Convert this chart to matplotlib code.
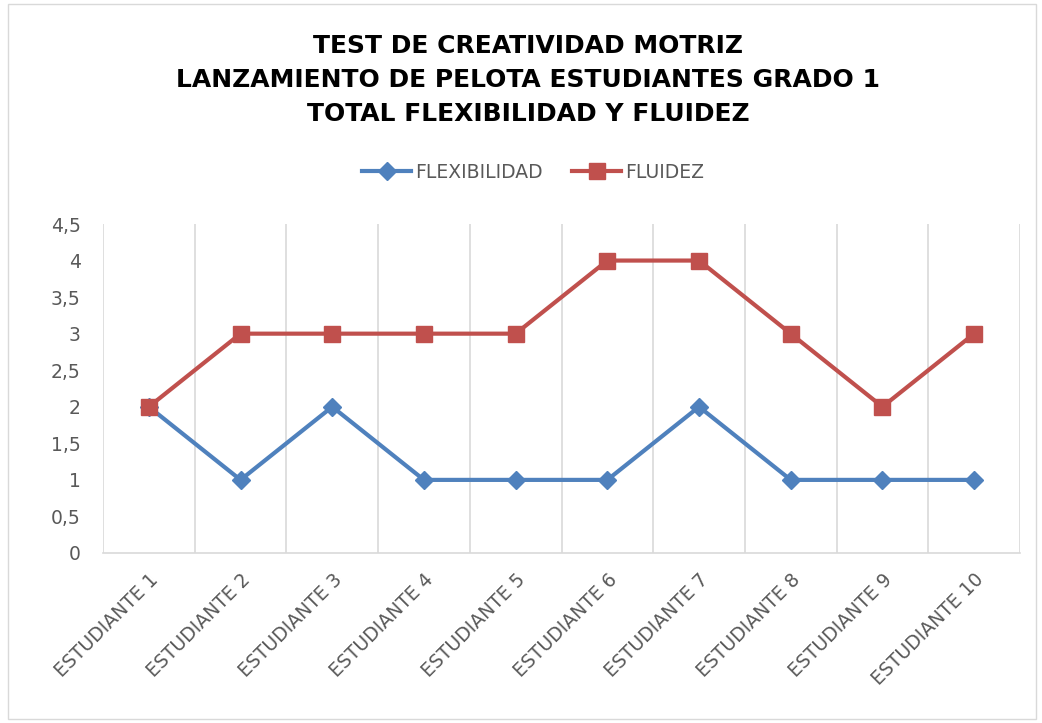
import matplotlib
matplotlib.use("Agg")
import matplotlib.pyplot as plt
from matplotlib.patches import Rectangle

categories = ["ESTUDIANTE 1", "ESTUDIANTE 2", "ESTUDIANTE 3", "ESTUDIANTE 4", "ESTUDIANTE 5",
              "ESTUDIANTE 6", "ESTUDIANTE 7", "ESTUDIANTE 8", "ESTUDIANTE 9", "ESTUDIANTE 10"]
flexibilidad = [2, 1, 2, 1, 1, 1, 2, 1, 1, 1]
fluidez = [2, 3, 3, 3, 3, 4, 4, 3, 2, 3]
yticks = [0, 0.5, 1, 1.5, 2, 2.5, 3, 3.5, 4, 4.5]
ytick_labels = ["0", "0,5", "1", "1,5", "2", "2,5", "3", "3,5", "4", "4,5"]
title_lines = ["TEST DE CREATIVIDAD MOTRIZ",
               "LANZAMIENTO DE PELOTA ESTUDIANTES GRADO 1",
               "TOTAL FLEXIBILIDAD Y FLUIDEZ"]

plt.rcParams['font.family'] = ['DejaVu Sans']

W, H = 1042, 723
fig = plt.figure(figsize=(W / 100, H / 100), dpi=100)
fig.patches.append(Rectangle((8 / W, 4 / H), (1036 - 8) / W, (719 - 4) / H,
                             transform=fig.transFigure, fill=False,
                             edgecolor="#d9d9d9", linewidth=1))

left, right, top, bottom = 103, 1020, 224, 553
ax = fig.add_axes([left / W, 1 - bottom / H, (right - left) / W, (bottom - top) / H])

x = list(range(len(categories)))
blue = "#4f81bd"
red = "#c0504d"
ax.plot(x, flexibilidad, color=blue, linewidth=3, marker="D", markersize=9,
        label="FLEXIBILIDAD", zorder=3)
ax.plot(x, fluidez, color=red, linewidth=3, marker="s", markersize=12,
        label="FLUIDEZ", zorder=3)

ax.set_xlim(-0.5, len(categories) - 0.5)
ax.set_ylim(0, 4.5)
ax.set_yticks(yticks)
ax.set_yticklabels(ytick_labels, fontsize=13.5, color="#595959")
ax.set_xticks(x)
ax.set_xticklabels(categories, rotation=45, ha="right", va="top", fontsize=13.5,
                   color="#595959", rotation_mode="anchor")
ax.tick_params(axis="both", length=0)
ax.tick_params(axis="y", pad=16)
ax.tick_params(axis="x", pad=12)

for b in [i - 0.5 for i in range(len(categories) + 1)]:
    ax.axvline(b, color="#d9d9d9", linewidth=1.2, zorder=1)

for s in ["top", "right", "left"]:
    ax.spines[s].set_visible(False)
ax.spines["bottom"].set_color("#d9d9d9")
ax.spines["bottom"].set_linewidth(1.2)

for i, (yy, t) in enumerate(zip([46, 80, 114], title_lines)):
    fig.text(528 / W, 1 - yy / H, t, ha="center", va="center", fontsize=18,
             fontweight="bold", color="#000000")

leg = fig.legend(loc="center", bbox_to_anchor=(533 / W, 1 - 172 / H), ncol=2,
                 frameon=False, fontsize=13.5, handlelength=2.6, columnspacing=1.6,
                 handletextpad=0.2)
for t in leg.get_texts():
    t.set_color("#595959")

fig.savefig("out.png", dpi=100)
